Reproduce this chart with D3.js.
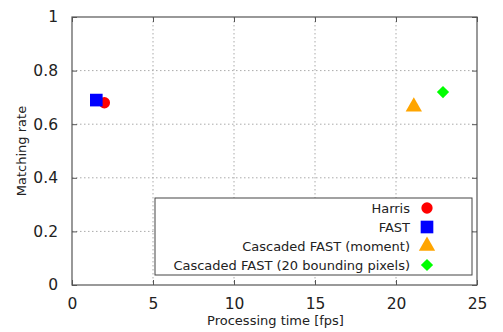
<!DOCTYPE html>
<html><head><meta charset="utf-8">
<script src="https://cdn.jsdelivr.net/npm/d3@7"></script>
<style>body{margin:0;background:#fff;} text{font-family:"DejaVu Sans",sans-serif;}</style>
</head><body><svg id="c" width="503" height="332"></svg>
<script>
const seriesNames = ["Harris", "FAST", "Cascaded FAST (moment)", "Cascaded FAST (20 bounding pixels)"];
const fpsValues = [2.0, 1.5, 21.1, 22.9];
const matchValues = [0.68, 0.69, 0.665, 0.72];
const colors = ["#ff0000", "#0000ff", "#ffa500", "#00ff00"];
const xTicks = [0, 5, 10, 15, 20, 25];
const yTicks = [0, 0.2, 0.4, 0.6, 0.8, 1];
const yTickLabels = ["0", "0.2", "0.4", "0.6", "0.8", "1"];

const svg = d3.select("#c");
const L = 72, R = 477, T = 17, B = 285;
const x = d3.scaleLinear().domain([0, 25]).range([L, R]);
const y = d3.scaleLinear().domain([0, 1]).range([B, T]);

// grid
const g = svg.append("g");
xTicks.slice(1, -1).forEach(t => g.append("line").attr("x1", x(t)).attr("x2", x(t)).attr("y1", T).attr("y2", B)
  .attr("stroke", "#aaa").attr("stroke-width", 1).attr("stroke-dasharray", "1.5,2.5"));
yTicks.slice(1, -1).forEach(t => g.append("line").attr("x1", L).attr("x2", R).attr("y1", y(t)).attr("y2", y(t))
  .attr("stroke", "#aaa").attr("stroke-width", 1).attr("stroke-dasharray", "1.5,2.5"));

// axes
const fmtY = d => yTickLabels[yTicks.indexOf(d)];
const ax = svg.append("g").attr("transform", `translate(0,${B})`).call(d3.axisBottom(x).tickValues(xTicks).tickSize(-5).tickPadding(13).tickFormat(d3.format("d")));
const ay = svg.append("g").attr("transform", `translate(${L},0)`).call(d3.axisLeft(y).tickValues(yTicks).tickSize(-5).tickPadding(14).tickFormat(fmtY));
const at = svg.append("g").attr("transform", `translate(0,${T})`).call(d3.axisTop(x).tickValues(xTicks).tickSize(-5).tickFormat(""));
const ar = svg.append("g").attr("transform", `translate(${R},0)`).call(d3.axisRight(y).tickValues(yTicks).tickSize(-5).tickFormat(""));
[ax, ay, at, ar].forEach(a => {
  a.select(".domain").remove();
  a.selectAll("line").attr("stroke", "#555");
  a.selectAll("text").attr("font-size", 15.5).attr("fill", "#222").style("font-family", '"DejaVu Sans",sans-serif');
});
svg.append("rect").attr("x", L).attr("y", T).attr("width", R - L).attr("height", B - T)
  .attr("fill", "none").attr("stroke", "#555").attr("stroke-width", 1.2);

// axis titles
svg.append("text").attr("x", (L + R) / 2 + 1).attr("y", 325).attr("text-anchor", "middle").attr("font-size", 13).attr("fill", "#222").text("Processing time [fps]");
svg.append("text").attr("transform", `translate(26,${(T + B) / 2}) rotate(-90)`).attr("text-anchor", "middle").attr("font-size", 13).attr("fill", "#222").text("Matching rate");

// markers
const shapes = [d3.symbolCircle, d3.symbolSquare, d3.symbolTriangle, d3.symbolSquare];
const sizes = [100, 160, 115, 75];
function marker(sel, i, cx, cy) {
  sel.append("path").attr("d", d3.symbol().type(shapes[i]).size(sizes[i])())
    .attr("transform", `translate(${cx},${cy})` + (i === 3 ? " rotate(45)" : ""))
    .attr("fill", colors[i]);
}
seriesNames.forEach((n, i) => marker(svg, i, x(fpsValues[i]), y(matchValues[i])));

// legend
const lg = svg.append("g");
lg.append("rect").attr("x", 155).attr("y", 198).attr("width", 317).attr("height", 77).attr("fill", "#fff").attr("stroke", "#444").attr("stroke-width", 1);
seriesNames.forEach((n, i) => {
  const ry = 208 + i * 19;
  lg.append("text").attr("x", 410).attr("y", ry).attr("dy", "0.35em").attr("text-anchor", "end").attr("font-size", 13).attr("fill", "#222").text(n);
  marker(lg, i, 427, ry);
});
</script></body></html>
